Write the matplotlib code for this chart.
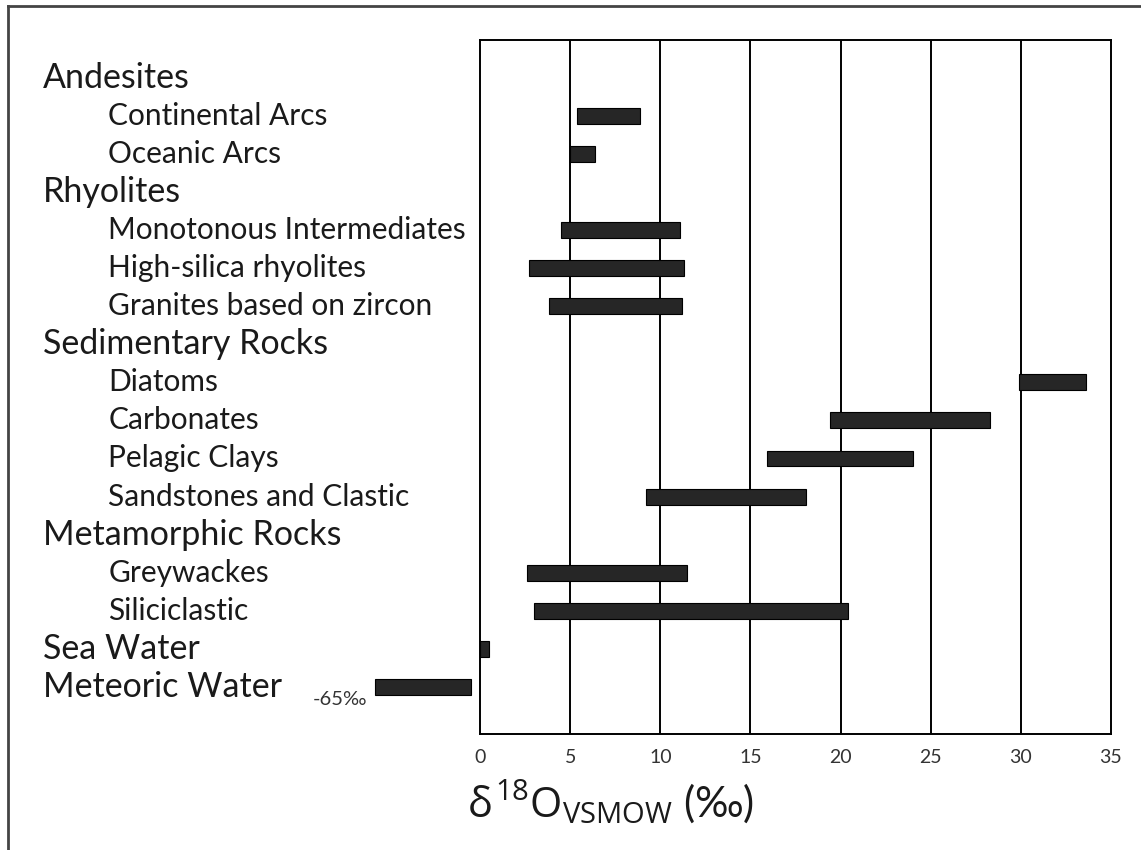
import matplotlib.pyplot as plt
from matplotlib.lines import Line2D

plt.rcParams['font.family'] = ['Lato', 'DejaVu Sans']
plt.rcParams['mathtext.fontset'] = 'custom'
plt.rcParams['mathtext.rm'] = 'Open Sans'
plt.rcParams['mathtext.it'] = 'Open Sans'

# Rangs de delta 18O par type de roche / d'eau (‰ VSMOW)
labels = ["Andesites", "Continental Arcs", "Oceanic Arcs",
          "Rhyolites", "Monotonous Intermediates", "High-silica rhyolites",
          "Granites based on zircon",
          "Sedimentary Rocks", "Diatoms", "Carbonates", "Pelagic Clays",
          "Sandstones and Clastic",
          "Metamorphic Rocks", "Greywackes", "Siliciclastic",
          "Sea Water", "Meteoric Water"]
is_group = [True, False, False,
            True, False, False, False,
            True, False, False, False, False,
            True, False, False,
            True, True]
low = [None, 5.4, 5.0,
       None, 4.5, 2.7, 3.8,
       None, 29.9, 19.4, 15.9, 9.2,
       None, 2.6, 3.0,
       0.0, -65]
high = [None, 8.9, 6.4,
        None, 11.1, 11.3, 11.2,
        None, 33.6, 28.3, 24.0, 18.1,
        None, 11.5, 20.4,
        0.5, -0.5]
xticks = [0, 5, 10, 15, 20, 25, 30, 35]

# valeurs hors échelle : barre tronquée à gauche de l'axe
break_at = -5.8

fig = plt.figure(figsize=(11.41, 8.5), dpi=100)
ax = fig.add_axes([0.4207, 0.1365, 0.553, 0.8165])

bar_color = '#262626'
for i, (lo, hi) in enumerate(zip(low, high)):
    if lo is None:
        continue
    start = max(lo, break_at)
    ax.barh(i, hi - start, left=start, height=0.42, color=bar_color,
            edgecolor='black', linewidth=0.8, clip_on=False, zorder=3)
    if lo < break_at:
        ax.text(start - 0.45, i + 0.33, f"{lo:g}‰", ha='right', va='center',
                fontsize=14.5, color='#333333')

# étiquettes à gauche (groupes + sous-catégories)
for i, (lab, grp) in enumerate(zip(labels, is_group)):
    if grp:
        ax.text(-0.693, i, lab, transform=ax.get_yaxis_transform(),
                ha='left', va='center', fontsize=24.5, color='#1a1a1a')
    else:
        ax.text(-0.589, i, lab, transform=ax.get_yaxis_transform(),
                ha='left', va='center', fontsize=21.5, color='#1a1a1a')

for x in xticks[1:-1]:
    ax.axvline(x, color='black', linewidth=1.4, zorder=1)

ax.set_xlim(0, 35)
ax.set_ylim(17.24, -1.0)
ax.set_xticks(xticks)
ax.set_yticks([])
ax.tick_params(axis='x', length=0, pad=11, labelsize=14, labelcolor='#333333')
for sp in ax.spines.values():
    sp.set_linewidth(1.4)
    sp.set_color('black')

fig.text(0.409, 0.028, r'$\delta^{18}\mathrm{O}_{\mathrm{VSMOW}}$ (‰)',
         ha='left', va='bottom', fontsize=30, color='#1a1a1a')

# cadre (haut et gauche)
fig.add_artist(Line2D([0.007, 1.0], [0.993, 0.993], color='#444444', linewidth=2))
fig.add_artist(Line2D([0.007, 0.007], [0.0, 0.993], color='#444444', linewidth=2))

plt.savefig("out.png", dpi=100)
